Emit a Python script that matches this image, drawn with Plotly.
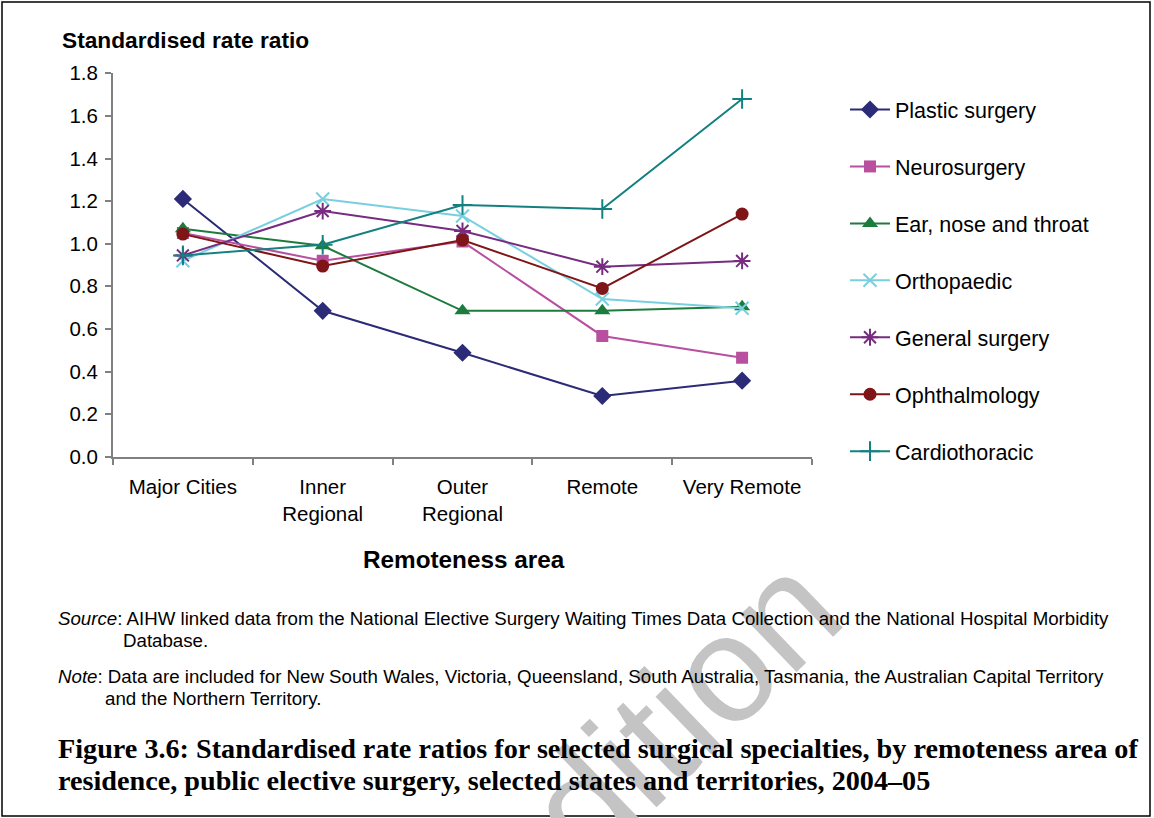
import plotly.graph_objects as go

W, H = 1154, 818

categories = ["Major Cities", "Inner Regional", "Outer Regional", "Remote", "Very Remote"]
tick_labels = ["Major Cities", "Inner<br>Regional", "Outer<br>Regional", "Remote", "Very Remote"]

plastic = [1.21, 0.685, 0.488, 0.285, 0.357]
neurosurgery = [1.05, 0.92, 1.01, 0.567, 0.465]
ent = [1.07, 0.99, 0.685, 0.685, 0.704]
orthopaedic = [0.92, 1.21, 1.13, 0.74, 0.697]
general = [0.945, 1.153, 1.06, 0.892, 0.919]
ophthalmology = [1.045, 0.895, 1.017, 0.79, 1.139]
cardiothoracic = [0.945, 0.995, 1.182, 1.163, 1.679]

series_names = ["Plastic surgery", "Neurosurgery", "Ear, nose and throat", "Orthopaedic",
                "General surgery", "Ophthalmology", "Cardiothoracic"]
series_values = [plastic, neurosurgery, ent, orthopaedic, general, ophthalmology, cardiothoracic]

colors = ["#2B2B78", "#B8509F", "#1E7B3E", "#78CFDF", "#772C80", "#7F1517", "#148080"]
symbols = ["diamond", "square", "triangle-up", "x-thin-open", "asterisk-open", "circle", "cross-thin-open"]
sizes = [14, 12, 14, 13, 14, 13, 14]

FONT = "Liberation Sans, Arial, sans-serif"
SERIF = "Liberation Serif, Times New Roman, serif"


def px(x):
    return x / W


def py(y):
    return 1 - y / H


fig = go.Figure()
for name, vals, c, s, sz in zip(series_names, series_values, colors, symbols, sizes):
    fig.add_trace(go.Scatter(
        x=categories, y=vals, name=name, mode="lines+markers",
        legendgroup=name,
        line=dict(color=c, width=2),
        marker=dict(symbol=s, size=sz, color=c, line=dict(color=c, width=2 if "open" in s else 0)),
    ))

annotations = []
# watermark (drawn first, below other text)
annotations.append(dict(text="edition", x=px(652), y=py(738), xref="paper", yref="paper",
                        showarrow=False, textangle=-44, xanchor="center", yanchor="middle",
                        font=dict(family=FONT, size=152, color="#C4C4C4")))

annotations.append(dict(text="<b>Standardised rate ratio</b>", x=px(60), y=py(40), xref="paper", yref="paper",
                        showarrow=False, xanchor="left", yanchor="middle",
                        font=dict(family=FONT, size=22.7, color="black")))
annotations.append(dict(text="<b>Remoteness area</b>", x=px(464), y=py(559), xref="paper", yref="paper",
                        showarrow=False, xanchor="center", yanchor="middle",
                        font=dict(family=FONT, size=24.3, color="black")))

notes = [
    ("<i>Source</i>: AIHW linked data from the National Elective Surgery Waiting Times Data Collection and the National Hospital Morbidity", 56, 618),
    ("Database.", 121, 640),
    ("<i>Note</i>: Data are included for New South Wales, Victoria, Queensland, South Australia, Tasmania, the Australian Capital Territory", 56, 676),
    ("and the Northern Territory.", 103, 698),
]
for t, x, y in notes:
    annotations.append(dict(text=t, x=px(x), y=py(y), xref="paper", yref="paper", showarrow=False,
                            xanchor="left", yanchor="middle",
                            font=dict(family=FONT, size=18.7, color="black")))

captions = [
    ("<b>Figure 3.6: Standardised rate ratios for selected surgical specialties, by remoteness area of</b>", 56, 748),
    ("<b>residence, public elective surgery, selected states and territories, 2004–05</b>", 56, 780),
]
for t, x, y in captions:
    annotations.append(dict(text=t, x=px(x), y=py(y), xref="paper", yref="paper", showarrow=False,
                            xanchor="left", yanchor="middle",
                            font=dict(family=SERIF, size=28.2, color="black")))

fig.update_layout(
    width=W, height=H,
    margin=dict(l=0, r=0, t=0, b=0),
    paper_bgcolor="white", plot_bgcolor="white",
    font=dict(family=FONT, size=20, color="black"),
    showlegend=True,
    legend=dict(x=px(845), y=py(89), xanchor="left", yanchor="top",
                font=dict(family=FONT, size=21.5, color="black"),
                tracegroupgap=26, bgcolor="rgba(0,0,0,0)", itemwidth=40),
    annotations=annotations,
    shapes=[dict(type="rect", xref="paper", yref="paper", x0=px(2), x1=px(1150), y0=py(816), y1=py(2),
                 line=dict(color="black", width=1.5))],
)
fig.update_xaxes(
    domain=[px(113), px(812)], type="category", categoryorder="array", categoryarray=categories,
    tickmode="array", tickvals=categories, ticktext=tick_labels, tickson="boundaries",
    range=[-0.5, 4.5], showline=True, linecolor="#808080", linewidth=2,
    ticks="outside", ticklen=6, tickcolor="#808080", tickwidth=1.5,
    showgrid=False, zeroline=False, automargin=False, ticklabelstandoff=11,
    tickfont=dict(family=FONT, size=20.5, color="black"),
)
fig.update_yaxes(
    domain=[py(456.7), py(73.3)], range=[0, 1.8], dtick=0.2, tick0=0, tickformat=".1f",
    showline=True, linecolor="#808080", linewidth=2,
    ticks="outside", ticklen=6, tickcolor="#808080", tickwidth=1.5,
    showgrid=False, zeroline=False, automargin=False, ticklabelstandoff=3,
    tickfont=dict(family=FONT, size=20.5, color="black"),
)

fig.write_html("out.html", config={"displayModeBar": False},
               post_script="document.body.style.margin='0px';document.body.style.overflow='hidden';")
